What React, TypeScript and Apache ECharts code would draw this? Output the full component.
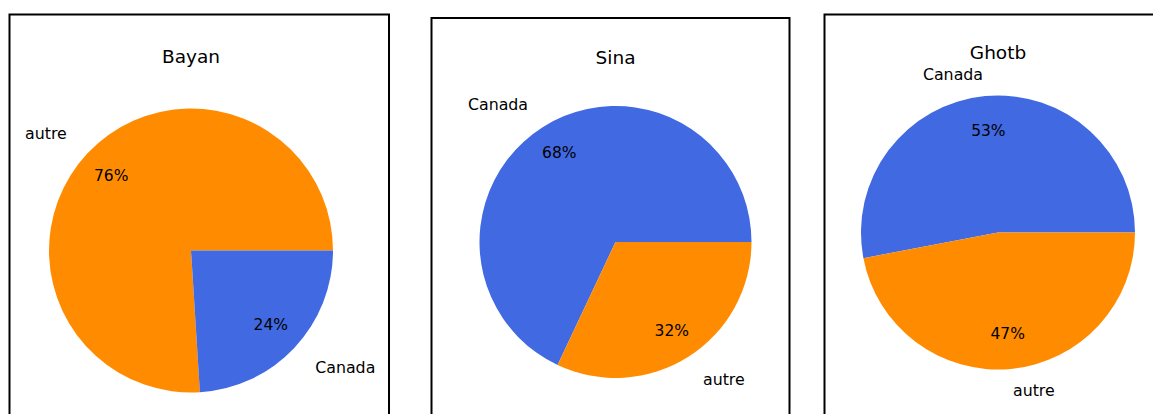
import React, { useEffect, useRef } from "react";
import * as echarts from "echarts";

const FONT = "DejaVu Sans";

const titles = ["Bayan", "Sina", "Ghotb"];

const bayanLabels = ["autre", "Canada"];
const bayanValues = [76, 24];

const sinaLabels = ["Canada", "autre"];
const sinaValues = [68, 32];

const ghotbLabels = ["Canada", "autre"];
const ghotbValues = [53, 47];

const colorOf: Record<string, string> = {
  Canada: "#4169E1",
  autre: "#FF8C00",
};

const pies = [
  { labels: bayanLabels, values: bayanValues, center: [191, 250.5], r: 142, lab: 28.4, pct: 1.5, titleY: 56 },
  { labels: sinaLabels, values: sinaValues, center: [615.5, 242], r: 136, lab: 27.2, pct: 1.5, titleY: 57 },
  { labels: ghotbLabels, values: ghotbValues, center: [998, 232.5], r: 137, lab: 22, pct: 1.45, titleY: 52 },
];

const boxes = [
  { x: 9.5, y: 14.5, w: 379.5 },
  { x: 431.5, y: 18, w: 358 },
  { x: 824.5, y: 14.5, w: 400 },
];

export default function App() {
  const ref = useRef<HTMLDivElement>(null);

  useEffect(() => {
    if (!ref.current) return;
    const chart = echarts.init(ref.current, undefined, { renderer: "svg" });

    const series: any[] = [];
    pies.forEach((p) => {
      series.push({
        type: "pie",
        center: p.center,
        radius: p.r,
        startAngle: 0,
        clockwise: false,
        avoidLabelOverlap: false,
        silent: true,
        emphasis: { disabled: true },
        data: p.labels.map((n, i) => ({
          name: n,
          value: p.values[i],
          itemStyle: { color: colorOf[n] },
        })),
        label: {
          show: true,
          position: "outside",
          formatter: "{b}",
          color: "#000",
          fontFamily: FONT,
          fontSize: 15.8,
          distanceToLabelLine: 0,
        },
        labelLine: { show: false, length: p.lab, length2: 0 },
      });
      series.push({
        type: "pie",
        center: p.center,
        radius: p.r * p.pct,
        startAngle: 0,
        clockwise: false,
        avoidLabelOverlap: false,
        silent: true,
        emphasis: { disabled: true },
        data: p.labels.map((n, i) => ({
          name: n,
          value: p.values[i],
          itemStyle: { color: "rgba(0,0,0,0)" },
        })),
        label: {
          show: true,
          position: "inside",
          formatter: (q: any) => Math.round(q.percent) + "%",
          color: "#000",
          fontFamily: FONT,
          fontSize: 15.5,
          textBorderWidth: 0,
        },
        labelLine: { show: false },
      });
    });

    const graphics: any[] = [];
    boxes.forEach((b) => {
      graphics.push({
        type: "rect",
        shape: { x: b.x, y: b.y, width: b.w, height: 500 },
        style: { fill: "none", stroke: "#000", lineWidth: 2 },
        silent: true,
      });
    });
    pies.forEach((p, i) => {
      graphics.push({
        type: "text",
        x: p.center[0],
        y: p.titleY,
        style: {
          text: titles[i],
          align: "center",
          verticalAlign: "middle",
          fill: "#000",
          font: `18.5px "${FONT}"`,
        },
        silent: true,
      });
    });

    chart.setOption({
      animation: false,
      backgroundColor: "#fff",
      series,
      graphic: graphics,
    });

    return () => chart.dispose();
  }, []);

  return (
    <div
      ref={ref}
      style={{ position: "absolute", left: 0, top: 0, width: 1153, height: 414 }}
    />
  );
}
